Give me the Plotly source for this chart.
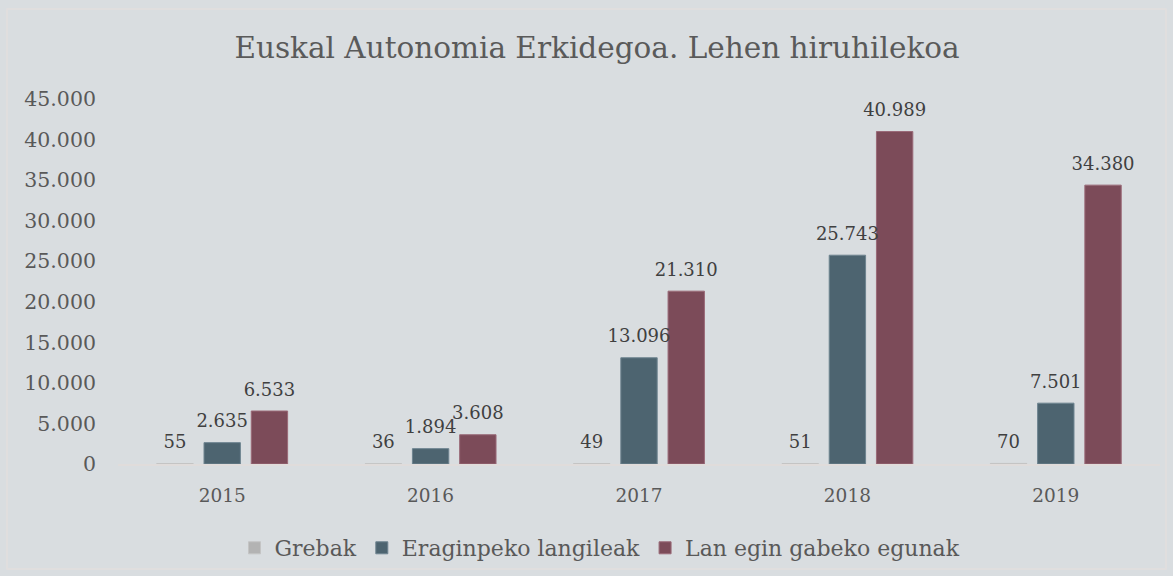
import plotly.graph_objects as go

years = ["2015", "2016", "2017", "2018", "2019"]
grebak = [55, 36, 49, 51, 70]
langileak = [2635, 1894, 13096, 25743, 7501]
egunak = [6533, 3608, 21310, 40989, 34380]
y_ticks = [0, 5000, 10000, 15000, 20000, 25000, 30000, 35000, 40000, 45000]

FONT = "DejaVu Serif, serif"
BG = "#D9DDE0"

W, H = 1173, 576
L, R, T, B = 118, 13, 99, 112
pw, ph = W - L - R, H - T - B

fig = go.Figure()
series = [
    ("Grebak", grebak, "#B3B3B3", "#C4C4C4"),
    ("Eraginpeko langileak", langileak, "#4D6470", "#6E8490"),
    ("Lan egin gabeko egunak", egunak, "#7C4B59", "#9A6A78"),
]
for i, (name, vals, col, edge) in enumerate(series):
    fig.add_trace(go.Bar(
        x=years, y=vals, name=name, offsetgroup=str(i),
        marker=dict(color=col, line=dict(color=edge, width=1)),
        hoverinfo="x+y+name",
    ))
for i, (name, vals, col, edge) in enumerate(series):
    fig.add_trace(go.Scatter(
        x=years, y=vals, mode="markers+text", offsetgroup=str(i),
        marker=dict(size=16, opacity=0), showlegend=False, hoverinfo="skip",
        texttemplate="%{y:,}", textposition="top center", cliponaxis=False,
        textfont=dict(family=FONT, size=18, color="#404040"),
    ))

def px_x(x):
    return (x - L) / pw

def px_y(y):
    return (H - B - y) / ph

fig.add_shape(type="rect", xref="paper", yref="paper",
              x0=px_x(7), x1=px_x(1166), y0=px_y(9), y1=px_y(569),
              line=dict(color="#E2DEDD", width=1.5), layer="below")

fig.update_layout(
    width=W, height=H,
    paper_bgcolor=BG, plot_bgcolor=BG,
    margin=dict(l=L, r=R, t=T, b=B),
    separators=",.",
    barmode="group", bargap=0.32, bargroupgap=0.23,
    scattermode="group", scattergap=0.32,
    title=dict(text="Euskal Autonomia Erkidegoa. Lehen hiruhilekoa",
               x=597 / W, xanchor="center", y=1 - 48 / H, yanchor="middle",
               font=dict(family=FONT, size=29.5, color="#5A5A5A")),
    font=dict(family=FONT, color="#595959"),
    showlegend=True,
    legend=dict(orientation="h", x=600 / W, xanchor="center", xref="container",
                y=1 - 548 / H, yanchor="middle", yref="container",
                font=dict(family=FONT, size=22, color="#595959"),
                itemwidth=30, traceorder="normal", bgcolor="rgba(0,0,0,0)"),
    xaxis=dict(showgrid=False, showline=True, linecolor="#E0DCDB", linewidth=1.5,
               ticks="", tickfont=dict(family=FONT, size=18.5, color="#595959"),
               ticklabelstandoff=14),
    yaxis=dict(range=[0, 45000], tickvals=y_ticks, tickformat=",d",
               showgrid=False, zeroline=False, showline=False, ticks="",
               tickfont=dict(family=FONT, size=20.5, color="#595959"),
               ticklabelstandoff=21),
)

fig.write_html("out.html", config={"displayModeBar": False},
               post_script="document.body.style.margin='0';document.body.style.overflow='hidden';")
